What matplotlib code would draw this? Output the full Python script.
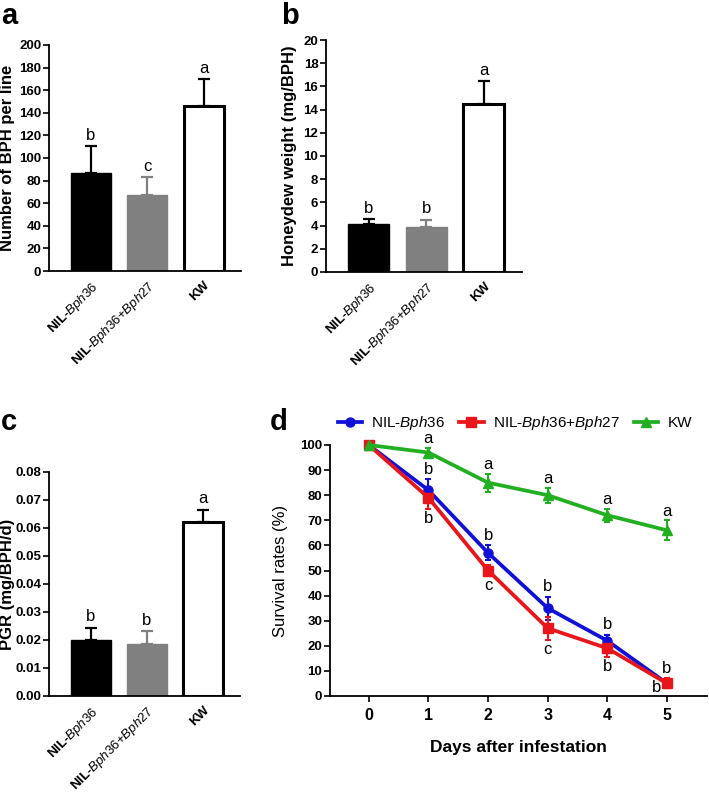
import numpy as np
import matplotlib
matplotlib.use("Agg")
import matplotlib.pyplot as plt

plt.rcParams['font.family'] = ['Liberation Sans', 'DejaVu Sans']
plt.rcParams['mathtext.fontset'] = 'custom'
plt.rcParams['mathtext.rm'] = 'Liberation Sans'
plt.rcParams['mathtext.it'] = 'Liberation Sans:italic'
plt.rcParams['mathtext.bf'] = 'Liberation Sans:bold'

# bar panels
lines = ['NIL-$\\mathit{Bph36}$', 'NIL-$\\mathit{Bph36{+}Bph27}$', 'KW']
bph_num = [87, 67, 146]
bph_err = [23.5, 16, 23.6]
bph_let = ['b', 'c', 'a']
honey = [4.1, 3.85, 14.45]
honey_err = [0.45, 0.65, 2.0]
honey_let = ['b', 'b', 'a']
pgr = [0.0199, 0.0186, 0.0622]
pgr_err = [0.0044, 0.0046, 0.0044]
pgr_let = ['b', 'b', 'a']

# survival panel
days = [0, 1, 2, 3, 4, 5]
surv36 = [100, 82, 57, 35, 22, 5]
surv36_err = [0, 4.4, 3, 4.6, 2.4, 2]
surv36_let = ['', 'b', 'b', 'b', 'b', 'b']
surv3627 = [100, 79, 50, 27, 19, 5]
surv3627_err = [0, 4.3, 2, 4.6, 3.4, 2]
surv3627_let = ['', 'b', 'c', 'c', 'b', 'b']
survkw = [100, 97, 85, 80, 72, 66]
survkw_err = [0, 2, 3.6, 3, 2.6, 4]
survkw_let = ['', 'a', 'a', 'a', 'a', 'a']

W, H = 709, 799
fig = plt.figure(figsize=(W / 100, H / 100), dpi=100)


def box(l, r, t, b):
    return [l / W, 1 - b / H, (r - l) / W, (b - t) / H]


def style(ax):
    for s in ['top', 'right']:
        ax.spines[s].set_visible(False)
    for s in ['left', 'bottom']:
        ax.spines[s].set_linewidth(1.3)
    ax.tick_params(direction='out', length=4, width=1.2, labelsize=9.5, pad=1.5)
    for t in ax.get_yticklabels():
        t.set_fontweight('bold')


def ylab(ax, text, left, right, xpix, weight='bold'):
    ax.set_ylabel(text, fontweight=weight, fontsize=12)
    ax.yaxis.set_label_coords((xpix - left) / (right - left), 0.5)


def bar_panel(ax, vals, errs, lets, ymax, ystep, fmt):
    x = np.arange(3)
    cols = ['black', '#808080', 'white']
    edges = ['black', '#808080', 'black']
    ecols = ['black', '#808080', 'black']
    for i in range(3):
        ax.bar(x[i], vals[i], width=0.71, color=cols[i], edgecolor=edges[i],
               linewidth=2.2 if i == 2 else 1, zorder=2)
        ax.errorbar(x[i], vals[i], yerr=[[0], [errs[i]]], color=ecols[i],
                    capsize=4, capthick=1.6, elinewidth=1.6, zorder=1)
        ax.annotate(lets[i], (x[i], vals[i] + errs[i]), xytext=(0, 2.5),
                    textcoords='offset points', ha='center', va='bottom', fontsize=12)
    ax.set_xlim(-0.74, 2.66)
    ax.set_ylim(0, ymax)
    ax.set_yticks(np.arange(0, ymax + ystep / 2, ystep))
    ax.yaxis.set_major_formatter(plt.FormatStrFormatter(fmt))
    ax.set_xticks(x)
    ax.set_xticklabels(lines, rotation=45, ha='right', rotation_mode='anchor',
                       fontweight='bold', fontsize=11)
    style(ax)
    ax.tick_params(axis='x', length=0, pad=6)


ax_a = fig.add_axes(box(49, 241, 45, 271))
bar_panel(ax_a, bph_num, bph_err, bph_let, 200, 20, '%d')
ylab(ax_a, 'Number of BPH per line', 49, 241, 15)
ax_b = fig.add_axes(box(326, 522, 40, 272))
bar_panel(ax_b, honey, honey_err, honey_let, 20, 2, '%d')
ylab(ax_b, 'Honeydew weight (mg/BPH)', 326, 522, 297)
ax_c = fig.add_axes(box(49, 240, 472, 696))
bar_panel(ax_c, pgr, pgr_err, pgr_let, 0.08, 0.01, '%.2f')
ylab(ax_c, 'PGR (mg/BPH/d)', 49, 240, 15)

ax_d = fig.add_axes(box(330, 707, 445, 696))
series = [(surv36, surv36_err, '#1010d8', 'o', 'NIL-$\\mathit{Bph36}$'),
          (surv3627, surv3627_err, '#e8161b', 's', 'NIL-$\\mathit{Bph36{+}Bph27}$'),
          (survkw, survkw_err, '#22b022', '^', 'KW')]
handles = []
for vals, errs, c, m, lab in series:
    h = ax_d.errorbar(days, vals, yerr=errs, color=c, marker=m, markersize=6.5,
                      linewidth=2.7, elinewidth=1.5, capsize=2.5, capthick=1.5,
                      label=lab, clip_on=False, zorder=3)
    handles.append(h[0])

for i in days:
    if survkw_let[i]:
        ax_d.text(i, survkw[i] + survkw_err[i] + 0.5, survkw_let[i], ha='center', va='bottom', fontsize=12)
    if surv36_let[i]:
        ax_d.text(i, surv36[i] + surv36_err[i] + 1, surv36_let[i], ha='center', va='bottom', fontsize=12)
    if surv3627_let[i]:
        if i == 5:
            ax_d.text(4.82, surv3627[i] - 1.5, surv3627_let[i], ha='center', va='center', fontsize=12)
        else:
            ax_d.text(i, surv3627[i] - surv3627_err[i] - 1, surv3627_let[i], ha='center', va='top', fontsize=12)

ax_d.set_xlim(-0.65, 5.67)
ax_d.set_ylim(0, 100)
ax_d.set_yticks(np.arange(0, 101, 10))
ax_d.set_xticks(days)
style(ax_d)
for t in ax_d.get_xticklabels():
    t.set_fontweight('bold')
ax_d.tick_params(axis='x', labelsize=11.5, pad=5)
ax_d.set_xlabel('Days after infestation', fontweight='bold', fontsize=12.5, labelpad=12)
ylab(ax_d, 'Survival rates (%)', 330, 707, 288, weight='normal')
ax_d.legend(handles=handles, labels=[s[4] for s in series], loc='center',
            bbox_to_anchor=(0.49, 1 + 22 / 251), ncol=3,
            frameon=False, fontsize=11, handlelength=1.6, columnspacing=0.9,
            handletextpad=0.6, borderaxespad=0)

for lab, x, y in [('a', 1, 24), ('b', 281, 24), ('c', 1, 430), ('d', 270, 430)]:
    fig.text(x / W, 1 - y / H, lab, fontsize=21, fontweight='bold', ha='left', va='baseline')

fig.savefig('out.png', dpi=100)
